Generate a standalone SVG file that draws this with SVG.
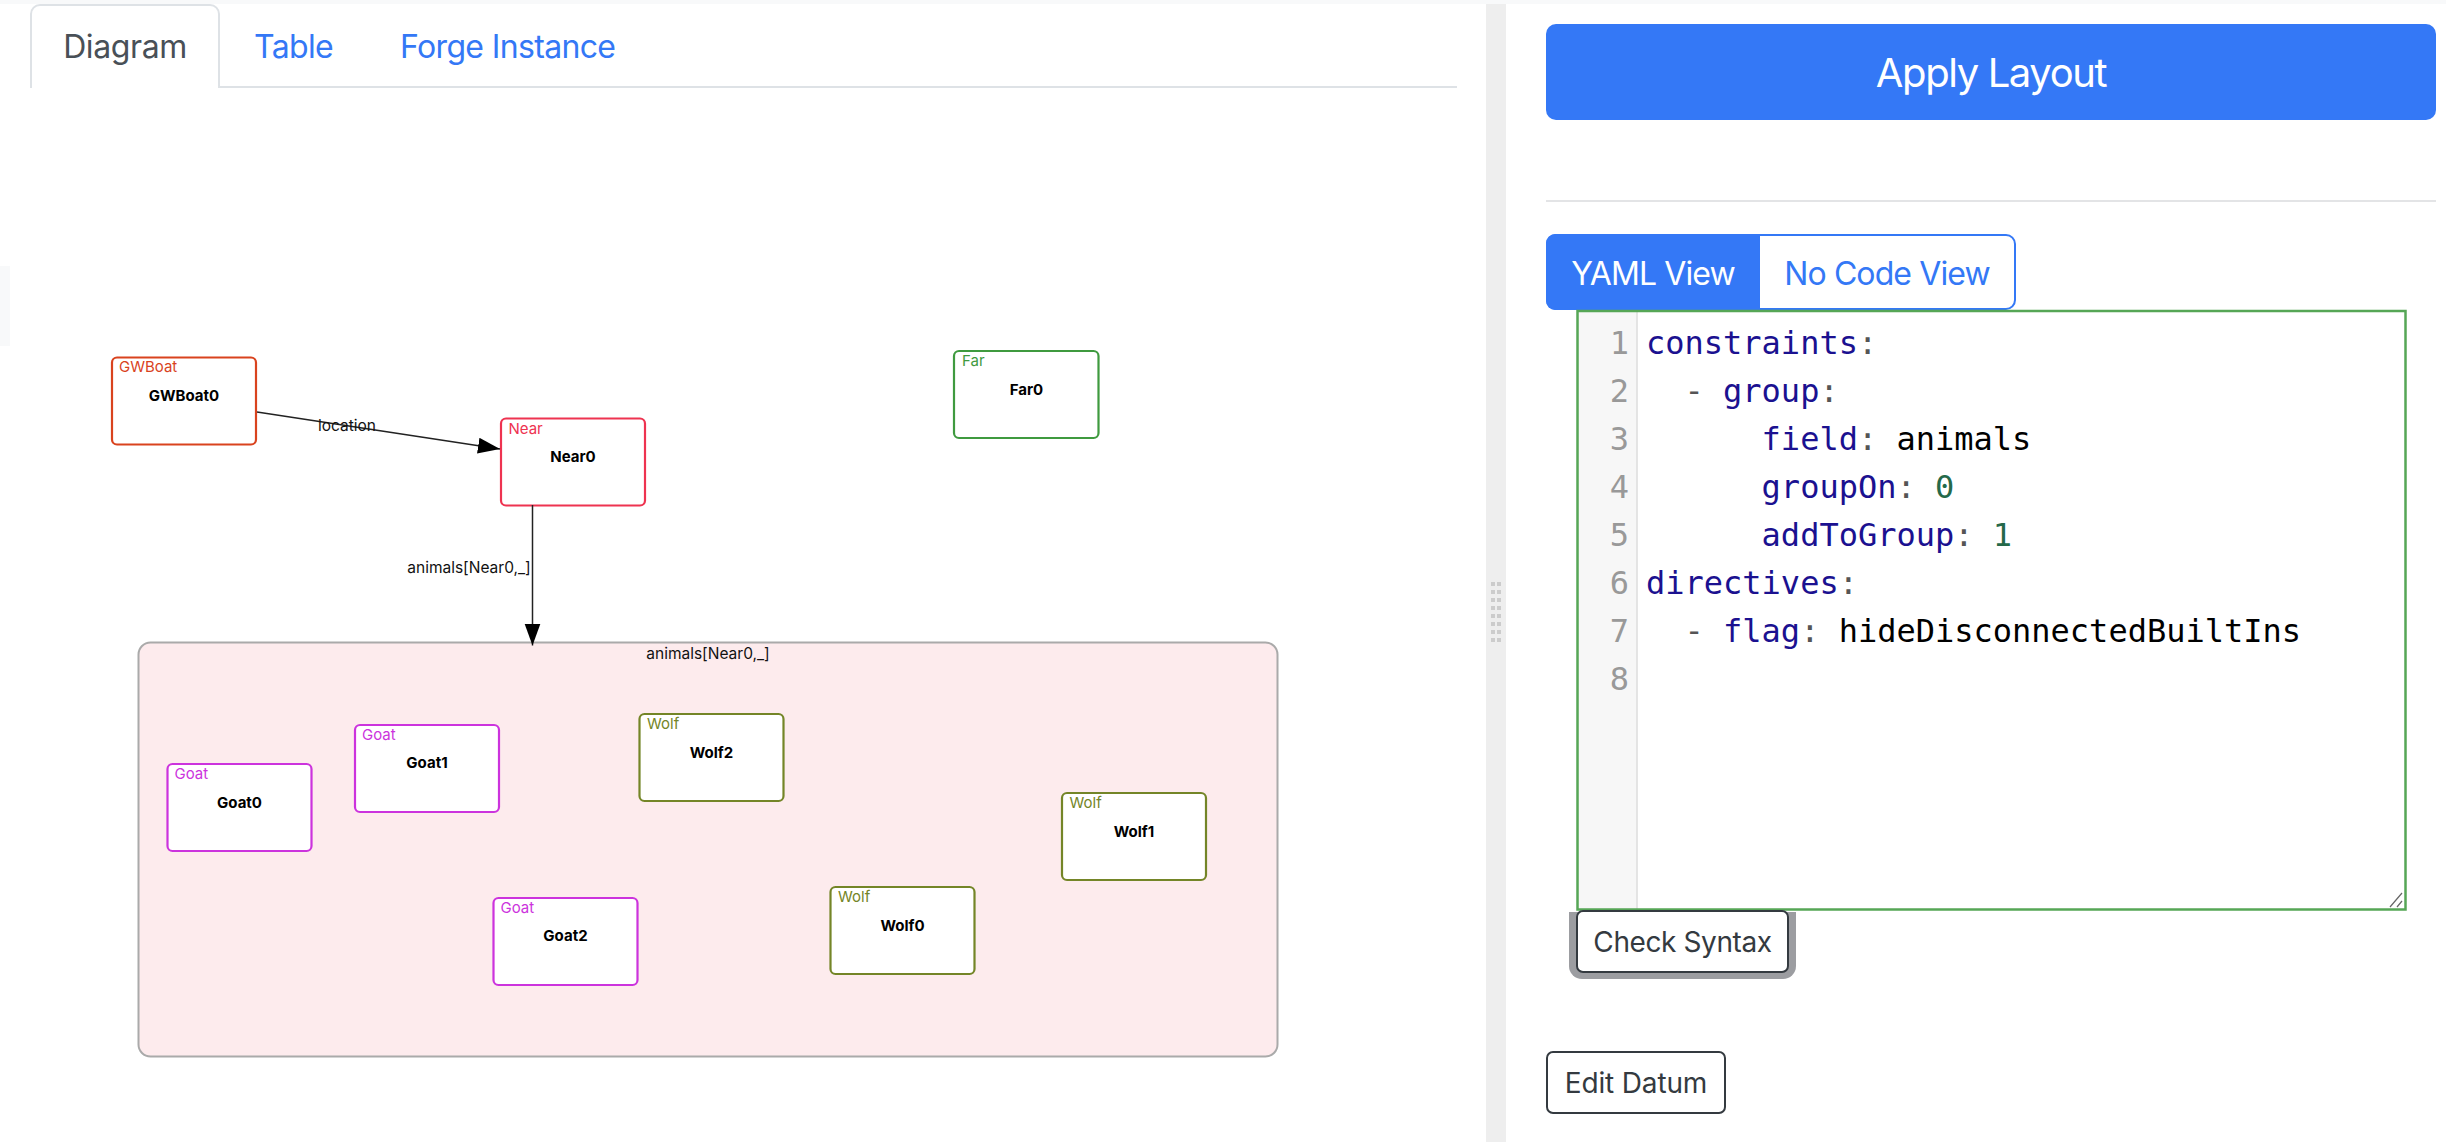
<svg xmlns="http://www.w3.org/2000/svg" width="2446" height="1142" viewBox="0 0 2446 1142">
<style>
.ui{font-family:Inter,"Liberation Sans",sans-serif}
.tab{font-size:32px;fill:#3478f6;letter-spacing:-.65px}
.node{fill:#fff;stroke-width:2.2}
.type{font-family:Inter,"Liberation Sans",sans-serif;font-size:15px}
.id{font-family:Inter,"Liberation Sans",sans-serif;font-size:15px;font-weight:700;fill:#000;text-anchor:middle}
.elabel{font-family:Inter,"Liberation Sans",sans-serif;font-size:15.500px;fill:#111;text-anchor:middle}
.edge{stroke:#222;stroke-width:1.5;fill:none}
.code{font-family:"DejaVu Sans Mono","Liberation Mono",monospace;font-size:32px;white-space:pre}
.ln{fill:#999;text-anchor:end}
.k{fill:#1b1190}.p{fill:#555}.v{fill:#000}.n{fill:#25694a}
.dot{fill:#ccc}
.btn{fill:#fff;stroke:#343a40;stroke-width:2}
.btxt{font-size:28px;fill:#343a40;text-anchor:middle}
.tog{font-size:32px;letter-spacing:-.9px;text-anchor:middle}
</style>
<defs>
<marker id="arrow" markerUnits="userSpaceOnUse" markerWidth="24" markerHeight="18" refX="22" refY="8" orient="auto"><path d="M0 0L22 8L0 16Z" fill="#000"/></marker>
</defs>
<rect width="2446" height="1142" fill="#fff"/>
<rect width="2446" height="4" fill="#f8f9fa"/>
<rect x="0" y="266" width="10" height="80" fill="#f8f9fa"/>

<g id="tabs" class="ui">
<path d="M219 87H1457" stroke="#dee2e6" stroke-width="2" fill="none"/>
<path d="M31 88V14a9 9 0 0 1 9-9H210a9 9 0 0 1 9 9V88" fill="#fff" stroke="#dee2e6" stroke-width="2"/>
<text x="125" y="58" text-anchor="middle" font-size="32" letter-spacing="-.4" fill="#495057">Diagram</text>
<text class="tab" x="254" y="58">Table</text>
<text class="tab" x="400" y="58">Forge Instance</text>
</g>

<g id="group-animals">
<rect x="138.500" y="642.500" width="1139" height="414" rx="12" fill="#fdebed" stroke="#aaa" stroke-width="2"/>
<text class="elabel" x="708" y="659">animals[Near0,_]</text>
</g>

<g id="GWBoat0"><rect class="node" x="112" y="357.500" width="144" height="87" rx="5" stroke="#d9431e"/><text class="type" x="119" y="372" fill="#d9431e">GWBoat</text><text class="id" x="184" y="401">GWBoat0</text></g>
<g id="Near0"><rect class="node" x="501" y="418.500" width="144" height="87" rx="5" stroke="#ee3350"/><text class="type" x="508.500" y="433.500" fill="#ee3350">Near</text><text class="id" x="573" y="462">Near0</text></g>
<g id="Far0"><rect class="node" x="954" y="351" width="144.500" height="87" rx="5" stroke="#3f9a3f"/><text class="type" x="962" y="366" fill="#3f9a3f">Far</text><text class="id" x="1026.500" y="395">Far0</text></g>
<g id="Goat0"><rect class="node" x="167.500" y="764" width="144" height="87" rx="5" stroke="#cc33dd"/><text class="type" x="174.500" y="779" fill="#cc33dd">Goat</text><text class="id" x="239.500" y="808">Goat0</text></g>
<g id="Goat1"><rect class="node" x="355" y="725" width="144" height="87" rx="5" stroke="#cc33dd"/><text class="type" x="362" y="739.500" fill="#cc33dd">Goat</text><text class="id" x="427" y="768">Goat1</text></g>
<g id="Goat2"><rect class="node" x="493.500" y="898" width="144" height="87" rx="5" stroke="#cc33dd"/><text class="type" x="500.500" y="912.500" fill="#cc33dd">Goat</text><text class="id" x="565.500" y="941">Goat2</text></g>
<g id="Wolf0"><rect class="node" x="830.500" y="887" width="144" height="87" rx="5" stroke="#748527"/><text class="type" x="838" y="902" fill="#748527">Wolf</text><text class="id" x="902.500" y="931">Wolf0</text></g>
<g id="Wolf1"><rect class="node" x="1062" y="793" width="144" height="87" rx="5" stroke="#748527"/><text class="type" x="1069.500" y="808" fill="#748527">Wolf</text><text class="id" x="1134" y="837">Wolf1</text></g>
<g id="Wolf2"><rect class="node" x="639.500" y="714" width="144" height="87" rx="5" stroke="#748527"/><text class="type" x="647" y="729" fill="#748527">Wolf</text><text class="id" x="711.500" y="758">Wolf2</text></g>

<g id="connectors">
<path class="edge" d="M257 412L500 449" marker-end="url(#arrow)"/>
<path class="edge" d="M532.500 505V645.500" marker-end="url(#arrow)"/>
<text class="elabel" x="347" y="431">location</text>
<text class="elabel" x="469" y="573">animals[Near0,_]</text>
</g>

<g id="splitter">
<rect x="1486" y="4" width="20" height="1138" fill="#eee"/>
<g class="dot">
<rect x="1491" y="582" width="4" height="4"/><rect x="1497" y="582" width="4" height="4"/>
<rect x="1491" y="590" width="4" height="4"/><rect x="1497" y="590" width="4" height="4"/>
<rect x="1491" y="598" width="4" height="4"/><rect x="1497" y="598" width="4" height="4"/>
<rect x="1491" y="606" width="4" height="4"/><rect x="1497" y="606" width="4" height="4"/>
<rect x="1491" y="614" width="4" height="4"/><rect x="1497" y="614" width="4" height="4"/>
<rect x="1491" y="622" width="4" height="4"/><rect x="1497" y="622" width="4" height="4"/>
<rect x="1491" y="630" width="4" height="4"/><rect x="1497" y="630" width="4" height="4"/>
<rect x="1491" y="638" width="4" height="4"/><rect x="1497" y="638" width="4" height="4"/>
</g>
</g>

<g id="apply" class="ui">
<rect x="1546" y="24" width="890" height="96" rx="10" fill="#3478f6"/>
<text x="1991" y="87" text-anchor="middle" font-size="40" letter-spacing="-1.4" fill="#fff">Apply Layout</text>
</g>
<rect x="1546" y="200" width="890" height="2" fill="#e3e4e6"/>

<g id="view-toggle" class="ui">
<rect x="1547" y="235" width="468" height="74" rx="9" fill="#fff" stroke="#3478f6" stroke-width="2"/>
<path d="M1555 234H1760V310H1555a9 9 0 0 1-9-9V243a9 9 0 0 1 9-9Z" fill="#3478f6"/>
<text class="tog" x="1653" y="285" fill="#fff">YAML View</text>
<text class="tog" x="1887" y="285" fill="#3478f6">No Code View</text>
</g>

<g id="editor">
<rect x="1578" y="311" width="828" height="598" fill="#fff"/>
<rect x="1578" y="311" width="58.500" height="598" fill="#f7f7f7"/>
<path d="M1637 311V909" stroke="#ddd" stroke-width="1.500"/>
<rect x="1577.500" y="311" width="828" height="598.500" fill="none" stroke="#56a656" stroke-width="2.500"/>
<path d="M2390 907L2402 893M2397 907L2402 901" stroke="#666" stroke-width="1.200"/>
<g class="code">
<text class="ln" x="1629" y="354">1</text><text class="ln" x="1629" y="402">2</text><text class="ln" x="1629" y="450">3</text><text class="ln" x="1629" y="498">4</text><text class="ln" x="1629" y="546">5</text><text class="ln" x="1629" y="594">6</text><text class="ln" x="1629" y="642">7</text><text class="ln" x="1629" y="690">8</text>
<text x="1646" y="354"><tspan class="k">constraints</tspan><tspan class="p">:</tspan></text>
<text x="1646" y="402" xml:space="preserve"><tspan class="p">  - </tspan><tspan class="k">group</tspan><tspan class="p">:</tspan></text>
<text x="1646" y="450" xml:space="preserve">      <tspan class="k">field</tspan><tspan class="p">: </tspan><tspan class="v">animals</tspan></text>
<text x="1646" y="498" xml:space="preserve">      <tspan class="k">groupOn</tspan><tspan class="p">: </tspan><tspan class="n">0</tspan></text>
<text x="1646" y="546" xml:space="preserve">      <tspan class="k">addToGroup</tspan><tspan class="p">: </tspan><tspan class="n">1</tspan></text>
<text x="1646" y="594"><tspan class="k">directives</tspan><tspan class="p">:</tspan></text>
<text x="1646" y="642" xml:space="preserve"><tspan class="p">  - </tspan><tspan class="k">flag</tspan><tspan class="p">: </tspan><tspan class="v">hideDisconnectedBuiltIns</tspan></text>
</g>
</g>

<g id="check-syntax" class="ui">
<path d="M1569 912V966a13 13 0 0 0 13 13H1783a13 13 0 0 0 13-13V912Z" fill="#9c9da1"/>
<rect x="1577" y="911" width="211" height="61" rx="6" class="btn"/>
<text class="btxt" x="1682.500" y="952" letter-spacing="-.4">Check Syntax</text>
</g>
<g id="edit-datum" class="ui">
<rect x="1547" y="1052" width="178" height="61" rx="6" class="btn"/>
<text class="btxt" x="1636" y="1093" letter-spacing="-.15">Edit Datum</text>
</g>
</svg>
